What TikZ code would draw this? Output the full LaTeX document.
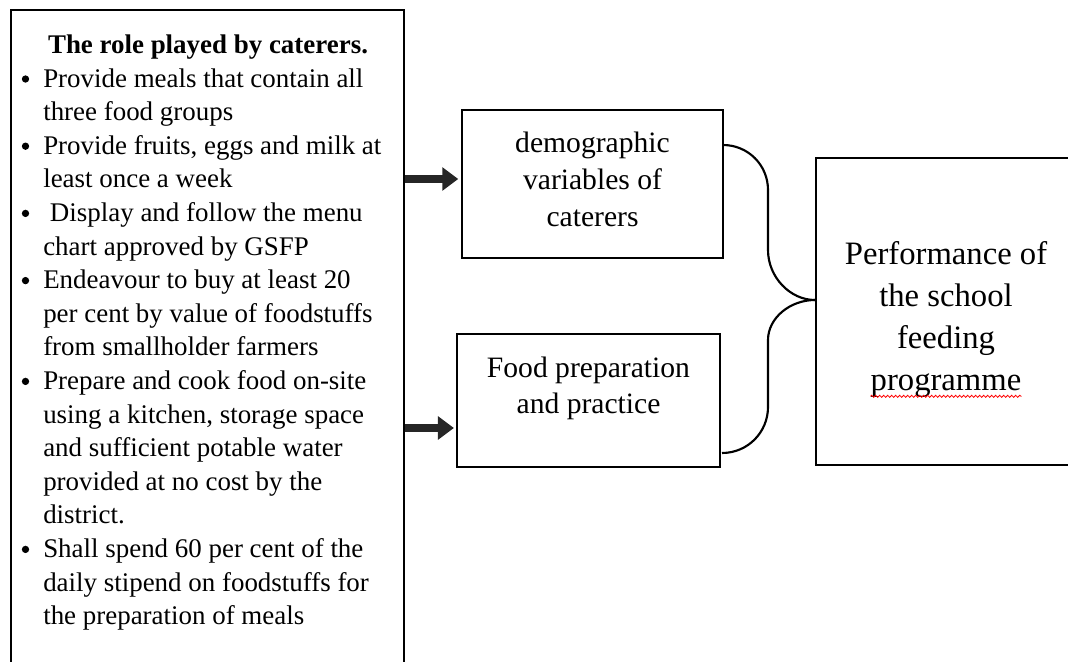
\documentclass[tikz,border=0pt]{standalone}
\usepackage{fontspec}
\setmainfont{Liberation Serif}
\usetikzlibrary{arrows.meta,decorations.pathmorphing}
\begin{document}
\begin{tikzpicture}[x=0.75pt,y=-0.75pt,
  frame/.style={line width=2.1pt, draw=black},
  boxstyle/.style={draw=black, line width=1.6pt, rectangle, inner sep=0pt, fill=white},
  ltext/.style={anchor=base west, inner sep=0pt, font=\fontsize{20.2}{25}\selectfont},
  bul/.style={circle, fill=black, inner sep=0pt, minimum size=5.5pt},
  mtext/.style={anchor=base, inner sep=0pt, font=\fontsize{22.2}{27}\selectfont},
  rtext/.style={anchor=base, inner sep=0pt, font=\fontsize{24.5}{30}\selectfont},
  blockarrow/.style={line width=5.5pt, draw=black!85, -{Triangle[length=12pt,width=17pt]}},
  bracestyle/.style={line width=1.6pt, draw=black}
]
\useasboundingbox (0,0) rectangle (1068,661);
\clip (0,0) rectangle (1068,661);

% left frame (open at the bottom)
\draw[frame] (11,680) -- (11,10) -- (404,10) -- (404,680);
\node[anchor=base, inner sep=0pt, font=\fontsize{20.2}{25}\selectfont\bfseries] (title) at (208,53) {The role played by caterers.};

\foreach \t [count=\i from 0] in {
  Provide meals that contain all,
  three food groups,
  {Provide fruits, eggs and milk at},
  least once a week,
  \ Display and follow the menu,
  chart approved by GSFP,
  Endeavour to buy at least 20,
  per cent by value of foodstuffs,
  from smallholder farmers,
  Prepare and cook food on-site,
  {using a kitchen, storage space},
  and sufficient potable water,
  provided at no cost by the,
  district.,
  Shall spend 60 per cent of the,
  daily stipend on foodstuffs for,
  the preparation of meals}
  {\node[ltext] (line\i) at (43,{87+33.6*\i}) {\t};}

\foreach \i in {0,2,4,6,9,14}
  {\node[bul] (bul\i) at (25.5,{87+33.6*\i-8}) {};}

% middle boxes
\node[boxstyle, minimum width=195.75pt, minimum height=111pt] (demo) at (592.5,184) {};
\node[mtext] (d1) at (592.5,152) {demographic};
\node[mtext] (d2) at (592.5,189) {variables of};
\node[mtext] (d3) at (592.5,226) {caterers};

\node[boxstyle, minimum width=197.25pt, minimum height=99.75pt] (food) at (588.5,400.5) {};
\node[mtext] (f1) at (588.5,377) {Food preparation};
\node[mtext] (f2) at (588.5,413) {and practice};

% right box (open at the right)
\node[boxstyle, minimum width=195pt, minimum height=230.25pt] (perf) at (946,311.5) {};
\node[rtext] (p1) at (946,264) {Performance of};
\node[rtext] (p2) at (946,306) {the school};
\node[rtext] (p3) at (946,348) {feeding};
\node[rtext] (p4) at (946,390) {programme};
\draw[red, line width=0.6pt, decorate, decoration={snake, amplitude=0.8pt, segment length=3pt}] (p4.south west) ++(0,-1) coordinate (sq1) -- (p4.south east |- sq1);

% block arrows
\coordinate (a1) at (405,179);
\coordinate (a2) at (405,428);
\draw[blockarrow, shorten >=2pt] (a1) -- (demo.west |- a1);
\draw[blockarrow, shorten >=1.5pt] (a2) -- (food.west |- a2);

% brace
\coordinate (b1) at (723,145);
\coordinate (b2) at (722,453);
\coordinate (tip) at (perf.west |- 0,300);
\draw[bracestyle] (b1) .. controls (748,145) and (768,165) .. (768,190)
  -- (768,250) .. controls (768,277) and (790,300) .. (tip);
\draw[bracestyle] (tip) .. controls (790,300) and (768,318) .. (768,340)
  -- (768,407) .. controls (768,432) and (748,453) .. (b2);
\end{tikzpicture}
\end{document}
